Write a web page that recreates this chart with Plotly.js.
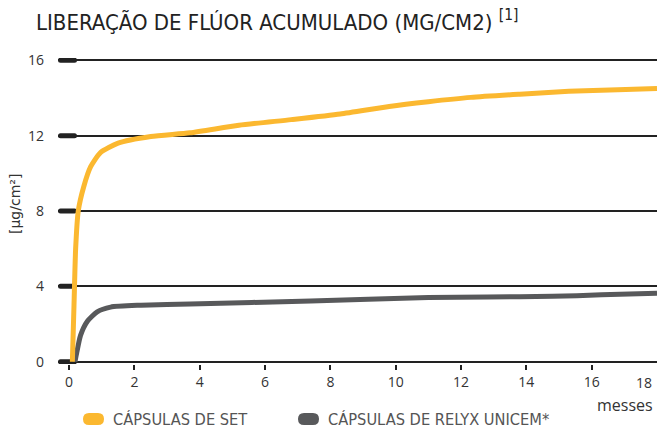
<!DOCTYPE html>
<html>
<head>
<meta charset="utf-8">
<script src="https://cdn.plot.ly/plotly-3.0.1.min.js"></script>
<style>html,body{margin:0;padding:0;background:#fff;}#chart{width:657px;height:430px;}</style>
</head>
<body>
<div id="chart"></div>
<script>
// Data
var setMonths   = [0.1, 0.15, 0.2, 0.28, 0.45, 0.66, 0.96, 1.5, 2.5, 3.7, 5.2, 6.8, 8.3, 9.8, 11, 12.3, 13.8, 15.3, 16.8, 18];
var setValues   = [0, 3, 6, 8, 9.3, 10.35, 11.1, 11.6, 11.95, 12.15, 12.55, 12.85, 13.15, 13.55, 13.8, 14.03, 14.2, 14.35, 14.44, 14.5];
var relyxMonths = [0.18, 0.23, 0.35, 0.56, 0.86, 1.27, 2.2, 3.7, 7.4, 11, 12.8, 14.8, 16.3, 18];
var relyxValues = [0, 0.45, 1.4, 2.15, 2.65, 2.9, 3.0, 3.07, 3.22, 3.41, 3.44, 3.47, 3.55, 3.63];
var xTickVals = [0, 2, 4, 6, 8, 10, 12, 14, 16];
var xLastTick = "18";
var yTickVals = [0, 4, 8, 12, 16];
var seriesNames = ["CÁPSULAS DE SET", "CÁPSULAS DE RELYX UNICEM*"];
var seriesColors = ["#fbb830", "#58595b"];

var NARROW = "'Liberation Sans Narrow', 'DejaVu Sans Condensed', 'Roboto Condensed', 'Arial Narrow', sans-serif";
var W = 657, H = 430, ML = 58, MR = 0, MT = 58, MB = 66;
var xMin = -0.34, xMax = 18, yMin = -0.12, yMax = 16.12;
var plotW = W - ML - MR, plotH = H - MT - MB;

var traces = [
  {x: relyxMonths, y: relyxValues, mode: "lines", name: seriesNames[1],
   line: {color: seriesColors[1], width: 5, shape: "spline", smoothing: 0.6}, cliponaxis: false, hoverinfo: "x+y"},
  {x: setMonths, y: setValues, mode: "lines", name: seriesNames[0],
   line: {color: seriesColors[0], width: 5, shape: "spline", smoothing: 0.6}, cliponaxis: false, hoverinfo: "x+y"}
];

var stubPath = "M2.5,-2.5 L16.5,-2.5 Q19,-2.5 19,0 Q19,2.5 16.5,2.5 L2.5,2.5 Q0,2.5 0,0 Q0,-2.5 2.5,-2.5 Z";
var pillPath = "M6,-6 L15,-6 Q21,-6 21,0 Q21,6 15,6 L6,6 Q0,6 0,0 Q0,-6 6,-6 Z";
var shapes = yTickVals.map(function (v) {
  return {type: "path", xref: "x", yref: "y", xsizemode: "pixel", ysizemode: "pixel",
          xanchor: xMin, yanchor: v, path: stubPath, fillcolor: "#222", line: {width: 0}, layer: "between"};
});
function py(p) { return (H - MB - p) / plotH; }
function px(p) { return (p - ML) / plotW; }
var legendY = py(419);
shapes.push({type: "path", xref: "paper", yref: "paper", xsizemode: "pixel", ysizemode: "pixel",
  xanchor: px(83), yanchor: legendY, path: pillPath, fillcolor: seriesColors[0], line: {width: 0}});
shapes.push({type: "path", xref: "paper", yref: "paper", xsizemode: "pixel", ysizemode: "pixel",
  xanchor: px(298), yanchor: legendY, path: pillPath, fillcolor: seriesColors[1], line: {width: 0}});

var annotations = [
  {text: xLastTick, xref: "x", yref: "paper", x: xMax, y: py(382), xanchor: "right", yanchor: "middle",
   xshift: -3, showarrow: false, font: {family: "Open Sans", size: 14, color: "#333"}},
  {text: "messes", xref: "paper", yref: "paper", x: 1, y: py(405), xanchor: "right", yanchor: "middle",
   xshift: -2, showarrow: false, font: {family: "Open Sans", size: 16, color: "#333"}},
  {text: "[µg/cm²]", xref: "paper", yref: "paper", x: px(15), y: py(204), xanchor: "center", yanchor: "middle",
   textangle: -90, showarrow: false, font: {family: "DejaVu Sans", size: 14, color: "#333"}},
  {text: seriesNames[0], xref: "paper", yref: "paper", x: px(111), y: legendY, xanchor: "left", yanchor: "middle",
   showarrow: false, font: {family: NARROW, size: 16.3, color: "#555"}},
  {text: seriesNames[1], xref: "paper", yref: "paper", x: px(326), y: legendY, xanchor: "left", yanchor: "middle",
   showarrow: false, font: {family: NARROW, size: 16.3, color: "#555"}}
];

var layout = {
  width: W, height: H,
  margin: {l: ML, r: MR, t: MT, b: MB, pad: 0},
  paper_bgcolor: "#fff", plot_bgcolor: "#fff",
  showlegend: false,
  title: {text: "LIBERAÇÃO DE FLÚOR ACUMULADO (MG/CM2) <sup>[1]</sup>", x: 36 / W, xanchor: "left",
          xref: "container", yref: "container", y: 1 - 22 / H, yanchor: "middle", pad: {l: 0, r: 0, t: 0, b: 0},
          font: {family: NARROW, size: 22, color: "#222"}},
  xaxis: {range: [xMin, xMax], tickvals: xTickVals, ticktext: xTickVals.map(String),
          showgrid: false, zeroline: false, showline: false,
          ticks: "outside", ticklen: 5, tickwidth: 2, tickcolor: "#222",
          tickfont: {family: "Open Sans", size: 14, color: "#333"}, fixedrange: true},
  yaxis: {range: [yMin, yMax], tickvals: yTickVals, ticktext: yTickVals.map(String),
          showgrid: true, gridcolor: "#222", gridwidth: 2, zeroline: false, showline: false,
          ticks: "", ticklabelstandoff: 13,
          tickfont: {family: "Open Sans", size: 14, color: "#333"}, fixedrange: true},
  shapes: shapes,
  annotations: annotations
};

Plotly.newPlot("chart", traces, layout, {displayModeBar: false, staticPlot: true});
</script>
</body>
</html>
